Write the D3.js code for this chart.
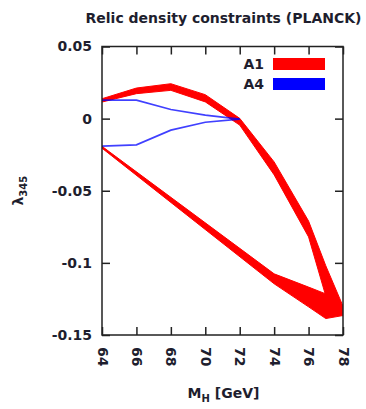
<!DOCTYPE html>
<html>
<head>
<meta charset="utf-8">
<script src="https://cdn.jsdelivr.net/npm/d3@7"></script>
<style>
  html, body { margin: 0; padding: 0; background: #fff; }
  svg { display: block; }
  text { font-family: "DejaVu Sans", Verdana, sans-serif; fill: #1e1e2e; font-weight: bold; }
</style>
</head>
<body>
<script>
// Relic density constraints: allowed lambda_345 bands vs. M_H for two benchmark scenarios.

// A1, upper branch (band: lo / hi edge of lambda_345)
const a1UpperMh = [64, 66, 68, 70, 72, 74, 76, 77, 78];
const a1UpperLo = [0.0115, 0.0173, 0.0196, 0.0116, -0.0045, -0.039, -0.082, -0.123, -0.137];
const a1UpperHi = [0.0138, 0.0212, 0.0242, 0.0166, 0.0002, -0.030, -0.071, -0.102, -0.130];

// A1, lower branch
const a1LowerMh = [64, 74, 76, 77, 78];
const a1LowerLo = [-0.0205, -0.1145, -0.1305, -0.1386, -0.1365];
const a1LowerHi = [-0.0192, -0.1076, -0.1168, -0.1215, -0.1300];

// A4, two thin branches meeting at M_H = 72 GeV
const a4Mh = [64, 66, 68, 70, 72];
const a4Upper = [0.0128, 0.0128, 0.0063, 0.0024, -0.0003];
const a4Lower = [-0.0190, -0.0182, -0.0080, -0.0025, -0.0003];

// axis ticks
const xTicks = [64, 66, 68, 70, 72, 74, 76, 78];
const yTicks = [0.05, 0, -0.05, -0.1, -0.15];
const yTickLabels = ["0.05", "0", "-0.05", "-0.1", "-0.15"];

// legend entries
const seriesNames = ["A1", "A4"];
const seriesColors = ["#ff0000", "#0000ff"];

const W = 366, H = 409;
const plot = { left: 102, right: 343, top: 46.5, bottom: 335 };

const x = d3.scaleLinear().domain([64, 78]).range([plot.left, plot.right]);
const y = d3.scaleLinear().domain([-0.15, 0.05]).range([plot.bottom, plot.top]);

const svg = d3.select("body").append("svg").attr("width", W).attr("height", H);

// clip to plot frame
svg.append("clipPath").attr("id", "frame")
  .append("rect")
  .attr("x", plot.left).attr("y", plot.top)
  .attr("width", plot.right - plot.left).attr("height", plot.bottom - plot.top);

const g = svg.append("g").attr("clip-path", "url(#frame)");

const band = (mh, lo, hi) => mh.map((m, i) => ({ m, lo: lo[i], hi: hi[i] }));
const area = d3.area().x(d => x(d.m)).y0(d => y(d.lo)).y1(d => y(d.hi));

[band(a1UpperMh, a1UpperLo, a1UpperHi), band(a1LowerMh, a1LowerLo, a1LowerHi)]
  .forEach(b => {
    g.append("path").datum(b)
      .attr("d", area)
      .attr("fill", seriesColors[0])
      .attr("stroke", seriesColors[0])
      .attr("stroke-width", 1)
      .attr("stroke-linejoin", "round");
  });

const line = d3.line().x(d => x(d.m)).y(d => y(d.v));
[a4Upper, a4Lower].forEach(vals => {
  g.append("path")
    .datum(a4Mh.map((m, i) => ({ m, v: vals[i] })))
    .attr("d", line)
    .attr("fill", "none")
    .attr("stroke", seriesColors[1])
    .attr("stroke-opacity", 0.75)
    .attr("stroke-width", 1.7);
});

// axes with inward ticks on all four sides
const tickLen = 8;
const axisColor = "#222";

const xb = svg.append("g").attr("transform", `translate(0,${plot.bottom})`)
  .call(d3.axisBottom(x).tickValues(xTicks).tickSize(-tickLen).tickFormat(d3.format("d")));
xb.selectAll("text")
  .attr("transform", "rotate(90)")
  .attr("x", 12).attr("y", 0).attr("dy", "0.35em")
  .attr("text-anchor", "start");

svg.append("g").attr("transform", `translate(0,${plot.top})`)
  .call(d3.axisTop(x).tickValues(xTicks).tickSize(-tickLen).tickFormat(""));

svg.append("g").attr("transform", `translate(${plot.left},0)`)
  .call(d3.axisLeft(y).tickValues(yTicks).tickSize(-tickLen)
    .tickFormat((d, i) => yTickLabels[i]))
  .selectAll("text").attr("x", -10);

svg.append("g").attr("transform", `translate(${plot.right},0)`)
  .call(d3.axisRight(y).tickValues(yTicks).tickSize(-tickLen).tickFormat(""));

svg.selectAll(".domain").remove();
svg.selectAll(".tick line").attr("stroke", axisColor).attr("stroke-width", 1.5);
svg.selectAll(".tick text")
  .attr("font-size", 14).attr("fill", "#1e1e2e")
  .attr("font-weight", "bold")
  .attr("font-family", "DejaVu Sans, sans-serif");

svg.append("rect")
  .attr("x", plot.left).attr("y", plot.top)
  .attr("width", plot.right - plot.left).attr("height", plot.bottom - plot.top)
  .attr("fill", "none").attr("stroke", axisColor).attr("stroke-width", 1.5);

// title
svg.append("text")
  .attr("x", 223.5).attr("y", 23)
  .attr("text-anchor", "middle").attr("font-size", 14)
  .text("Relic density constraints (PLANCK)");

// x axis label
const xl = svg.append("text")
  .attr("x", 223.5).attr("y", 398)
  .attr("text-anchor", "middle").attr("font-size", 14);
xl.append("tspan").text("M");
xl.append("tspan").attr("font-size", 10).attr("dy", 4).text("H");
xl.append("tspan").attr("dy", -4).text(" [GeV]");

// y axis label
const yl = svg.append("text")
  .attr("transform", `translate(23,${(plot.top + plot.bottom) / 2}) rotate(-90)`)
  .attr("text-anchor", "middle").attr("font-size", 14);
yl.append("tspan").text("λ");
yl.append("tspan").attr("font-size", 10).attr("dy", 4).text("345");

// legend
const legend = svg.append("g");
seriesNames.forEach((name, i) => {
  const cy = 64 + i * 20;
  legend.append("text")
    .attr("x", 264).attr("y", cy).attr("dy", "0.35em")
    .attr("text-anchor", "end").attr("font-size", 14)
    .text(name);
  legend.append("rect")
    .attr("x", 273).attr("y", cy - 6)
    .attr("width", 52).attr("height", 12)
    .attr("fill", seriesColors[i]);
});
</script>
</body>
</html>
